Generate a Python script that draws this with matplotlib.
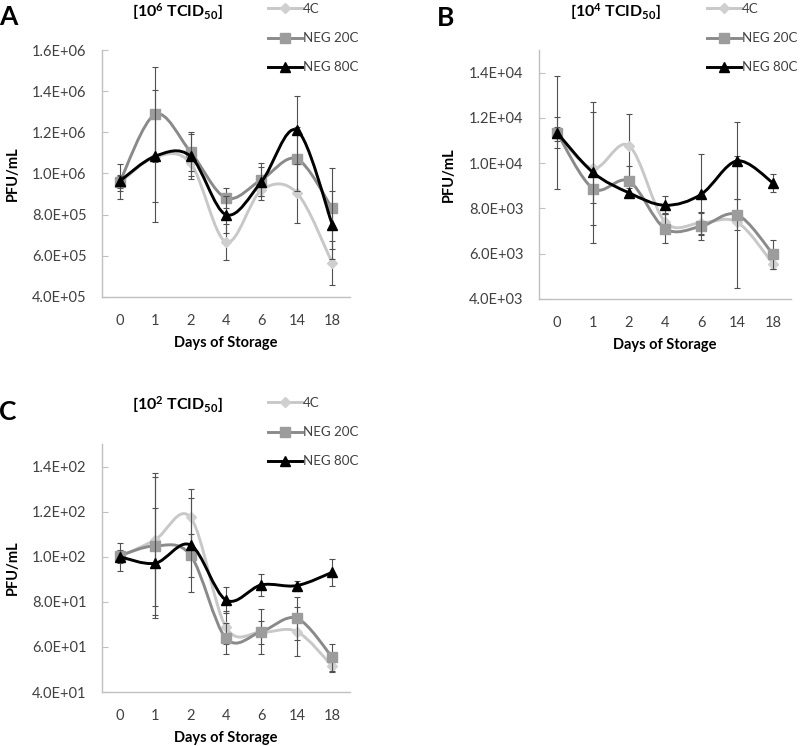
import matplotlib
matplotlib.use("Agg")
import matplotlib.pyplot as plt
from matplotlib.path import Path
from matplotlib.patches import PathPatch
from matplotlib.lines import Line2D

plt.rcParams['font.family'] = ['Lato', 'DejaVu Sans']
plt.rcParams['mathtext.fontset'] = 'custom'
plt.rcParams['mathtext.bf'] = 'Lato:bold'
plt.rcParams['mathtext.rm'] = 'Lato:bold'
plt.rcParams['mathtext.default'] = 'bf'

days = ['0', '1', '2', '4', '6', '14', '18']
series_names = ['4C', 'NEG 20C', 'NEG 80C']

# panel A  [10^6 TCID50]
a_4c = [0.955e6, 1.08e6, 1.05e6, 0.667e6, 0.919e6, 0.906e6, 0.565e6]
a_4c_err = [0.04e6, 0.22e6, 0.06e6, 0.087e6, 0.05e6, 0.145e6, 0.105e6]
a_20c = [0.958e6, 1.287e6, 1.105e6, 0.881e6, 0.97e6, 1.071e6, 0.83e6]
a_20c_err = [0.03e6, 0.23e6, 0.095e6, 0.05e6, 0.08e6, 0.155e6, 0.197e6]
a_80c = [0.963e6, 1.084e6, 1.084e6, 0.80e6, 0.96e6, 1.21e6, 0.752e6]
a_80c_err = [0.085e6, 0.32e6, 0.11e6, 0.09e6, 0.07e6, 0.165e6, 0.165e6]

# panel B  [10^4 TCID50]
b_4c = [11.3e3, 9.77e3, 10.77e3, 7.41e3, 7.36e3, 7.40e3, 5.56e3]
b_4c_err = [0.3e3, 2.5e3, 1.4e3, 0.4e3, 0.5e3, 2.9e3, 0.25e3]
b_20c = [11.35e3, 8.88e3, 9.2e3, 7.11e3, 7.21e3, 7.73e3, 5.98e3]
b_20c_err = [0.67e3, 0.65e3, 0.68e3, 0.65e3, 0.6e3, 0.67e3, 0.64e3]
b_80c = [11.35e3, 9.59e3, 8.69e3, 8.14e3, 8.62e3, 10.1e3, 9.13e3]
b_80c_err = [2.5e3, 3.1e3, 0.2e3, 0.4e3, 1.8e3, 1.7e3, 0.4e3]

# panel C  [10^2 TCID50]
c_4c = [100, 107.5, 117.4, 68.7, 66.5, 66.8, 51.5]
c_4c_err = [3, 29.5, 12.6, 7.3, 5, 11, 2.5]
c_20c = [100.5, 104.8, 100.6, 63.8, 66.8, 72.7, 55.4]
c_20c_err = [2, 30.5, 9.5, 7, 10, 9.6, 6]
c_80c = [100, 97.1, 105.2, 80.8, 87.5, 87.2, 93.1]
c_80c_err = [6.2, 24.4, 20.8, 5.6, 4.9, 2.2, 6]

line_colors = ['#c8c8c8', '#8a8a8a', '#000000']
marker_colors = ['#cfcfcf', '#9c9c9c', '#000000']
markers = ['D', 's', '^']
marker_sizes = [5, 7, 7.5]
err_color = '#505050'
axis_color = '#c0c0c0'
tick_text = '#404040'


def smooth_path(x, y):
    # Excel style smoothed line: cubic bezier segments through the points
    n = len(x)
    verts = [(x[0], y[0])]
    codes = [Path.MOVETO]
    for i in range(n - 1):
        x0, y0 = (x[i - 1], y[i - 1]) if i > 0 else (x[i], y[i])
        x3, y3 = (x[i + 2], y[i + 2]) if i + 2 < n else (x[i + 1], y[i + 1])
        c1 = (x[i] + (x[i + 1] - x0) / 6, y[i] + (y[i + 1] - y0) / 6)
        c2 = (x[i + 1] - (x3 - x[i]) / 6, y[i + 1] - (y3 - y[i]) / 6)
        verts += [c1, c2, (x[i + 1], y[i + 1])]
        codes += [Path.CURVE4, Path.CURVE4, Path.CURVE4]
    return Path(verts, codes)


def plot_panel(ax, data, errs, ylim, yticks, title, letter, fig_xy):
    x = list(range(len(days)))
    for i, (vals, err) in enumerate(zip(data, errs)):
        ax.add_patch(PathPatch(smooth_path(x, vals), facecolor='none',
                               edgecolor=line_colors[i], lw=2.1, zorder=2 + i))
        ax.errorbar(x, vals, yerr=err, fmt='none', ecolor=err_color,
                    elinewidth=0.8, capsize=2.4, capthick=0.8, zorder=2.5 + i)
        ax.plot(x, vals, linestyle='none', marker=markers[i], ms=marker_sizes[i],
                color=marker_colors[i], zorder=2.6 + i)
    ax.set_xlim(-0.5, len(days) - 0.5)
    ax.set_ylim(*ylim)
    ax.set_yticks(yticks)
    ax.set_yticklabels([f'{v:.1E}' for v in yticks])
    ax.set_xticks(x)
    ax.set_xticklabels(days)
    for s in ['top', 'right']:
        ax.spines[s].set_visible(False)
    for s in ['left', 'bottom']:
        ax.spines[s].set_color(axis_color)
        ax.spines[s].set_linewidth(1.0)
    ax.tick_params(axis='y', direction='in', length=4, color=axis_color,
                   labelsize=10.5, labelcolor=tick_text, pad=11)
    ax.tick_params(axis='x', length=0, labelsize=10.5, labelcolor=tick_text, pad=12)
    ax.set_ylabel('PFU/mL', fontsize=10.5, fontweight='bold')
    ax.yaxis.set_label_coords(-0.33, 0.5)
    ax.text(0.5, -0.186, 'Days of Storage', transform=ax.transAxes, ha='center',
            va='center', fontsize=10.5, fontweight='bold')

    fig = ax.figure
    W, H = fig.get_size_inches() * fig.dpi
    tx, ty, lx, ly, leg_x, leg_y = fig_xy
    fig.text(tx / W, 1 - ty / H, title, ha='center', va='center',
             fontsize=11.5, fontweight='bold')
    fig.text(lx / W, 1 - ly / H, letter, ha='center', va='center',
             fontsize=19, fontweight='bold')
    handles = [Line2D([], [], color=line_colors[i], lw=2.1, marker=markers[i],
                      ms=marker_sizes[i], mfc=marker_colors[i], mec=marker_colors[i])
               for i in range(3)]
    ax.legend(handles, series_names, loc='upper left', frameon=False,
              bbox_to_anchor=(leg_x / W, 1 - leg_y / H), bbox_transform=fig.transFigure,
              borderpad=0, borderaxespad=0, handlelength=2.55, handletextpad=0.08,
              labelspacing=1.29, fontsize=9.6, labelcolor=tick_text)


fig = plt.figure(figsize=(8, 7.46), dpi=100)
W, H = 800, 746

ax_a = fig.add_axes([102 / W, 1 - 297 / H, 248 / W, 247 / H])
ax_b = fig.add_axes([539 / W, 1 - 299 / H, 252 / W, 249 / H])
ax_c = fig.add_axes([102 / W, 1 - 692 / H, 248 / W, 248 / H])

plot_panel(ax_a, [a_4c, a_20c, a_80c], [a_4c_err, a_20c_err, a_80c_err],
           (4e5, 1.6e6), [4e5, 6e5, 8e5, 1.0e6, 1.2e6, 1.4e6, 1.6e6],
           r'[10$^{6}$ TCID$_{50}$]', 'A', (177, 12, 8, 17, 268, 3))
plot_panel(ax_b, [b_4c, b_20c, b_80c], [b_4c_err, b_20c_err, b_80c_err],
           (4e3, 1.5e4), [4e3, 6e3, 8e3, 1.0e4, 1.2e4, 1.4e4],
           r'[10$^{4}$ TCID$_{50}$]', 'B', (615, 12, 446, 18, 707, 3))
plot_panel(ax_c, [c_4c, c_20c, c_80c], [c_4c_err, c_20c_err, c_80c_err],
           (40, 150), [40, 60, 80, 100, 120, 140],
           r'[10$^{2}$ TCID$_{50}$]', 'C', (177, 405, 8, 412, 268, 397))

fig.savefig('out.png', dpi=100)
